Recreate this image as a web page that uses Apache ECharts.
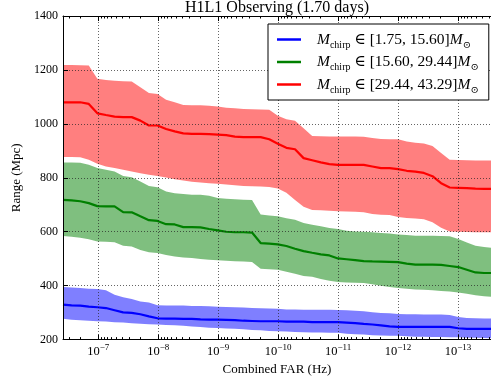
<!DOCTYPE html>
<html>
<head>
<meta charset="utf-8">
<script src="https://cdn.jsdelivr.net/npm/echarts@6/dist/echarts.min.js"></script>
<style>
  html, body { margin: 0; padding: 0; background: #fff; }
  #chart { width: 491px; height: 381px; }
</style>
</head>
<body>
<div id="chart"></div>
<script>
// log10 of the combined false-alarm rate (Hz) at each threshold
const logFar = [
  -6.413, -6.556, -6.700, -6.843, -6.986, -7.129, -7.273, -7.416, -7.559, -7.703,
  -7.846, -7.989, -8.132, -8.276, -8.419, -8.562, -8.706, -8.849, -8.992, -9.135,
  -9.279, -9.422, -9.565, -9.709, -9.852, -9.995, -10.138, -10.282, -10.425, -10.568,
  -10.712, -10.855, -10.998, -11.141, -11.285, -11.428, -11.571, -11.715, -11.858, -12.001,
  -12.144, -12.288, -12.431, -12.574, -12.718, -12.861, -13.004, -13.147, -13.291, -13.434,
  -13.577
];

// Range (Mpc) per chirp-mass bin: upper edge, median, lower edge of the band
const blueUpper = [395,393,391,389,388,383,366,357,351,341, 338,327,326,326,326,325,325,324,322,321,
  320,319,317,316,315,314,312,312,311,311, 311,311,310,309,307,305,301,299,298,295,
  294,294,293,293,293,291,284,280,279,278,278];
const blueMid = [330,327,326,322,320,317,309,301,299,294, 286,279,278,278,277,277,275,274,274,273,
  272,270,269,268,268,268,267,267,267,265, 265,265,265,263,261,258,256,253,249,247,
  247,247,247,247,247,247,242,240,240,240,240];
const blueLower = [277,274,272,270,268,267,264,263,261,259, 257,256,254,253,251,249,247,244,243,241,
  240,238,236,235,232,231,230,228,227,226, 226,225,225,222,220,219,216,215,214,214,
  212,211,211,210,210,209,209,207,207,206,205];

const greenUpper = [857,857,856,848,836,830,823,807,802,786, 770,765,749,743,740,737,737,733,725,722,
  720,719,718,664,660,657,650,644,632,626, 620,614,610,604,601,600,598,595,593,590,
  588,585,585,585,584,583,573,560,548,543,540];
const greenMid = [718,716,713,706,695,694,694,673,672,657, 643,640,628,627,617,617,616,610,605,600,
  598,598,597,558,556,553,547,537,528,522, 516,512,501,498,495,491,490,489,488,487,
  482,478,478,478,477,473,469,459,449,447,447];
const greenLower = [584,581,578,572,564,563,561,548,545,532, 524,521,514,508,504,503,499,496,494,492,
  491,490,488,463,461,459,452,444,436,433, 425,418,414,412,411,410,405,400,395,391,
  389,386,385,383,380,378,375,370,364,361,358];

const redUpper = [1218,1218,1217,1216,1167,1163,1160,1158,1157,1136, 1114,1111,1089,1080,1070,1069,1069,1067,1064,1060,
  1058,1055,1054,1053,1052,1030,1017,1012,984,955, 954,953,953,953,953,952,948,944,943,943,
  935,930,927,918,892,867,866,865,864,864,864];
const redMid = [1080,1080,1080,1074,1039,1033,1027,1025,1025,1012, 994,994,981,972,965,963,963,962,960,958,
  953,951,951,951,943,926,911,906,873,865, 857,851,848,848,848,848,842,836,836,832,
  826,823,818,806,780,764,763,762,760,759,759];
const redLower = [877,877,876,867,852,842,836,830,823,817, 811,807,801,795,790,785,783,780,778,775,
  772,770,769,768,766,760,745,718,693,681, 680,678,676,675,674,672,666,663,662,655,
  651,649,646,635,615,601,600,599,598,598,598];

// chirp-mass bin edges (solar masses)
const massBins = [['1.75', '15.60'], ['15.60', '29.44'], ['29.44', '43.29']];
const majorTicks = [-7, -8, -9, -10, -11, -12, -13];
const yTicks = [200, 400, 600, 800, 1000, 1200, 1400];

const SERIF = "'Liberation Serif', 'DejaVu Serif', serif";
const X_MIN = -13.55, X_MAX = -6.413;

// log-style minor ticks: k * 10^-n for k = 2..9
const minorTicks = [];
for (let n = 7; n <= 14; n++) {
  for (let k = 2; k <= 9; k++) {
    const v = -n + Math.log10(k);
    if (v > X_MIN && v < X_MAX) minorTicks.push(v);
  }
}

const bands = [
  { upper: blueUpper, mid: blueMid, lower: blueLower, line: '#0000ff', fill: 'rgba(0,0,255,0.5)' },
  { upper: greenUpper, mid: greenMid, lower: greenLower, line: '#008000', fill: 'rgba(0,128,0,0.5)' },
  { upper: redUpper, mid: redMid, lower: redLower, line: '#ff0000', fill: 'rgba(255,0,0,0.5)' }
];
const binNames = massBins.map(b => 'Mchirp ∈ [' + b[0] + ', ' + b[1] + '] M⊙');

const pairs = arr => logFar.map((x, i) => [x, arr[i]]);

// shaded band between lower and upper edges, drawn as one polygon
function bandRenderer(fill) {
  return function (params, api) {
    if (params.dataIndexInside !== 0) return null;
    const n = params.dataInsideLength;
    const top = [], bottom = [];
    for (let i = 0; i < n; i++) {
      const x = api.value(0, i);
      bottom.push(api.coord([x, api.value(1, i)]));
      top.push(api.coord([x, api.value(2, i)]));
    }
    const pts = bottom.concat(top.reverse());
    return {
      type: 'polygon',
      shape: { points: pts },
      style: { fill: fill, stroke: null },
      silent: true
    };
  };
}

const series = [];
bands.forEach((b, i) => {
  series.push({
    type: 'custom', name: 'band' + i, clip: true, z: 1,
    data: logFar.map((x, j) => [x, b.lower[j], b.upper[j]]),
    encode: { x: 0, y: [1, 2] },
    renderItem: bandRenderer(b.fill)
  });
});
bands.forEach((b, i) => {
  series.push({
    type: 'line', name: binNames[i], data: pairs(b.mid), symbol: 'none',
    color: b.line, lineStyle: { color: b.line, width: 2.2 }, itemStyle: { color: b.line }, z: 2
  });
});

const gridLine = { show: true, lineStyle: { color: '#222', width: 0.7, type: [1, 2] } };
const xBase = { type: 'value', min: X_MIN, max: X_MAX, inverse: true, z: 5 };
const black = { color: '#000', width: 1 };

const option = {
  animation: false,
  backgroundColor: '#fff',
  title: {
    text: 'H1L1 Observing (1.70 days)',
    left: 277, top: 0, textAlign: 'center', padding: 0,
    textStyle: { fontFamily: SERIF, fontSize: 16, fontWeight: 'normal', color: '#000' }
  },
  grid: { left: 63, right: -4, top: 16, bottom: 41, containLabel: false },
  xAxis: [
    Object.assign({}, xBase, {
      position: 'bottom',
      axisLine: { show: true, onZero: false, lineStyle: black },
      axisTick: { show: true, inside: true, length: 5, customValues: majorTicks, lineStyle: black },
      axisLabel: {
        customValues: majorTicks, margin: 4,
        formatter: v => '{b|10}{s|−' + Math.round(-v) + '}',
        rich: {
          b: { fontFamily: SERIF, fontSize: 12.5, lineHeight: 16, color: '#000' },
          s: { fontFamily: SERIF, fontSize: 9, lineHeight: 10, verticalAlign: 'top', color: '#000' }
        }
      },
      splitLine: gridLine,
      name: 'Combined FAR (Hz)', nameLocation: 'middle', nameGap: 17,
      nameTextStyle: { fontFamily: SERIF, fontSize: 13, color: '#000' }
    }),
    Object.assign({}, xBase, {
      position: 'bottom',
      axisLine: { show: false },
      axisTick: { show: true, inside: true, length: 2.5, customValues: minorTicks, lineStyle: black },
      axisLabel: { show: false }, splitLine: { show: false }
    }),
    Object.assign({}, xBase, {
      position: 'top',
      axisLine: { show: true, onZero: false, lineStyle: black },
      axisTick: { show: true, inside: true, length: 5, customValues: majorTicks, lineStyle: black },
      axisLabel: { show: false }, splitLine: { show: false }
    }),
    Object.assign({}, xBase, {
      position: 'top',
      axisLine: { show: false },
      axisTick: { show: true, inside: true, length: 2.5, customValues: minorTicks, lineStyle: black },
      axisLabel: { show: false }, splitLine: { show: false }
    })
  ],
  yAxis: [{
    type: 'value', min: yTicks[0], max: yTicks[yTicks.length - 1], interval: 200, position: 'left', z: 5,
    axisLine: { show: true, onZero: false, lineStyle: black },
    axisTick: { show: true, inside: true, length: 5, lineStyle: black },
    axisLabel: { fontFamily: SERIF, fontSize: 12, color: '#000', margin: 5, formatter: v => String(v) },
    splitLine: gridLine,
    name: 'Range (Mpc)', nameLocation: 'middle', nameGap: 31,
    nameTextStyle: { fontFamily: SERIF, fontSize: 13, color: '#000' }
  }],
  legend: {
    orient: 'vertical', left: 268, top: 24, z: 10,
    padding: [7.5, 10, 5, 9], itemGap: 4, itemWidth: 24, itemHeight: 2.5, icon: 'rect',
    borderColor: '#000', borderWidth: 1, borderRadius: 0, backgroundColor: '#fff',
    data: binNames,
    formatter: name => {
      const i = binNames.indexOf(name);
      return '{gap|}{it|M}{sub|chirp}{tx| ∈ [' + massBins[i][0] + ', ' + massBins[i][1] + ']}{it|M}{sub|⊙}';
    },
    textStyle: {
      rich: {
        gap: { width: 11 },
        it: { fontFamily: SERIF, fontStyle: 'italic', fontSize: 15.5, lineHeight: 21, color: '#000' },
        sub: { fontFamily: SERIF, fontSize: 10, lineHeight: 10, verticalAlign: 'bottom', color: '#000' },
        tx: { fontFamily: SERIF, fontSize: 15.5, lineHeight: 21, color: '#000' }
      }
    }
  },
  series: series
};

echarts.init(document.getElementById('chart'), null, { renderer: 'canvas' }).setOption(option);
</script>
</body>
</html>
